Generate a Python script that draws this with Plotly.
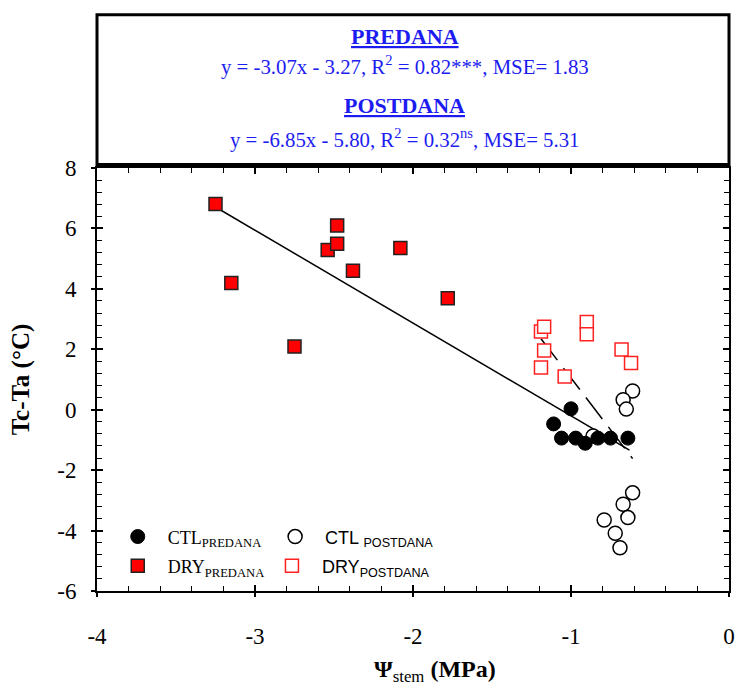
import plotly.graph_objects as go

# ---------------- data ----------------
dry_pre_x = [-3.25, -3.15, -2.75, -2.54, -2.48, -2.48, -2.38, -2.08, -1.78]
dry_pre_y = [6.81, 4.19, 2.09, 5.29, 6.10, 5.49, 4.60, 5.35, 3.69]

dry_post_x = [-1.19, -1.17, -1.17, -1.19, -1.04, -0.90, -0.90, -0.68, -0.62]
dry_post_y = [2.59, 2.75, 1.96, 1.40, 1.10, 2.90, 2.50, 1.99, 1.55]

ctl_pre_x = [-1.00, -1.11, -1.06, -0.97, -0.91, -0.83, -0.75, -0.64]
ctl_pre_y = [0.03, -0.47, -0.94, -0.94, -1.11, -0.94, -0.94, -0.94]

ctl_post_x = [-0.86, -0.61, -0.67, -0.65, -0.61, -0.67, -0.64, -0.79, -0.72, -0.69]
ctl_post_y = [-0.87, 0.62, 0.33, 0.02, -2.75, -3.13, -3.57, -3.65, -4.09, -4.57]

pre_line_x = [-3.25, -0.63]
pre_line_y = [6.71, -1.34]
post_line_x = [-1.19, -0.61]
post_line_y = [2.35, -1.62]

x_ticks = [-4, -3, -2, -1, 0]
y_ticks = [-6, -4, -2, 0, 2, 4, 6, 8]

SERIF = "Liberation Serif"
SANS = "Liberation Sans"
BLUE = "#1c1cf0"

fig = go.Figure()

fig.add_trace(go.Scatter(x=pre_line_x, y=pre_line_y, mode="lines",
                         line=dict(color="black", width=1.5), showlegend=False))
fig.add_trace(go.Scatter(x=post_line_x, y=post_line_y, mode="lines",
                         line=dict(color="black", width=1.5, dash="27px,10px"), showlegend=False))

fig.add_trace(go.Scatter(x=ctl_post_x, y=ctl_post_y, mode="markers",
                         name=f"<span style='font-family:{SANS}'>CTL <sub>POSTDANA</sub></span>",
                         legend="legend2",
                         marker=dict(symbol="circle", size=14, color="white",
                                     line=dict(color="black", width=1.5))))
fig.add_trace(go.Scatter(x=ctl_pre_x, y=ctl_pre_y, mode="markers",
                         name="CTL<sub>PREDANA</sub>", legend="legend",
                         marker=dict(symbol="circle", size=14, color="black",
                                     line=dict(color="black", width=1))))
fig.add_trace(go.Scatter(x=dry_pre_x, y=dry_pre_y, mode="markers",
                         name="DRY<sub>PREDANA</sub>", legend="legend3",
                         marker=dict(symbol="square", size=13, color="#ff0000",
                                     line=dict(color="#222222", width=1.5))))
fig.add_trace(go.Scatter(x=dry_post_x, y=dry_post_y, mode="markers",
                         name=f"<span style='font-family:{SANS}'>DRY<sub>POSTDANA</sub></span>",
                         legend="legend4",
                         marker=dict(symbol="square", size=13, color="white",
                                     line=dict(color="#ff2020", width=1.5))))

# overlay axes to draw the outer half of the major ticks
fig.add_trace(go.Scatter(x=[], y=[], xaxis="x2", yaxis="y2", showlegend=False))

leg_common = dict(bgcolor="rgba(0,0,0,0)", borderwidth=0, itemwidth=50,
                  xanchor="left", yanchor="middle",
                  font=dict(family=SERIF, size=18, color="black"))
fig.update_layout(
    legend=dict(x=0.017, y=0.128, **leg_common),
    legend2=dict(x=0.266, y=0.128, **leg_common),
    legend3=dict(x=0.017, y=0.059, **leg_common),
    legend4=dict(x=0.261, y=0.059, **leg_common),
)

axis_font = dict(family=SERIF, size=23, color="black")
title_font = dict(family=SERIF, size=25, color="black")
fig.update_layout(
    width=735, height=689,
    margin=dict(l=97, r=6, t=168, b=98, autoexpand=False),
    paper_bgcolor="white", plot_bgcolor="white",
    font=dict(family=SERIF, color="black"),
    xaxis=dict(range=[-4, 0], tickvals=x_ticks, ticktext=[str(v) for v in x_ticks],
               ticks="inside", ticklen=6, tickwidth=1.5, tickcolor="black",
               minor=dict(dtick=0.2, ticks="inside", ticklen=5, tickwidth=1, tickcolor="black"),
               showline=True, linecolor="black", linewidth=2, mirror="ticks",
               showgrid=False, zeroline=False, tickfont=axis_font, ticklabelstandoff=23,
               automargin=False),
    yaxis=dict(range=[-6, 8], tickvals=y_ticks, ticktext=[str(v) for v in y_ticks],
               ticks="inside", ticklen=6, tickwidth=1.5, tickcolor="black",
               minor=dict(dtick=0.4, ticks="inside", ticklen=5, tickwidth=1, tickcolor="black"),
               showline=True, linecolor="black", linewidth=2, mirror="ticks",
               showgrid=False, zeroline=False, tickfont=axis_font, ticklabelstandoff=14,
               automargin=False,
               title=dict(text="<b>Tc-Ta (°C)</b>", font=title_font, standoff=20)),
    xaxis2=dict(range=[-4, 0], overlaying="x", anchor="y", side="bottom",
                tickvals=x_ticks, ticks="outside", ticklen=5, tickwidth=1.5,
                tickcolor="black", showticklabels=False, showgrid=False,
                zeroline=False, showline=False, automargin=False),
    yaxis2=dict(range=[-6, 8], overlaying="y", anchor="x", side="left",
                tickvals=y_ticks, ticks="outside", ticklen=5, tickwidth=1.5,
                tickcolor="black", showticklabels=False, showgrid=False,
                zeroline=False, showline=False, automargin=False),
)

# x-axis title (slightly right of centre, as in the reference)
fig.add_annotation(text="<b>Ψ</b><sub>stem</sub><b> (MPa)</b>", xref="paper", yref="paper",
                   x=0.535, y=-0.188, xanchor="center", yanchor="middle", showarrow=False,
                   font=dict(family=SERIF, size=24, color="black"))

# header box with the regression equations
fig.add_shape(type="rect", xref="paper", yref="paper", x0=0, x1=1, y0=1.008, y1=1.362,
              line=dict(color="black", width=3), fillcolor="white")

box_texts = [
    ("<b><u>PREDANA</u></b>", 1.312, 22),
    ("y = -3.07x - 3.27, R<sup>2</sup> = 0.82***, MSE= 1.83", 1.243, 20.8),
    ("<b><u>POSTDANA</u></b>", 1.148, 22),
    ("y = -6.85x - 5.80, R<sup>2</sup> = 0.32<sup>ns</sup>, MSE= 5.31", 1.07, 20.8),
]
for txt, yy, sz in box_texts:
    fig.add_annotation(text=txt, xref="paper", yref="paper", x=0.487, y=yy,
                       xanchor="center", yanchor="middle", showarrow=False,
                       font=dict(family=SERIF, size=sz, color=BLUE))

fig.write_html("out.html")
